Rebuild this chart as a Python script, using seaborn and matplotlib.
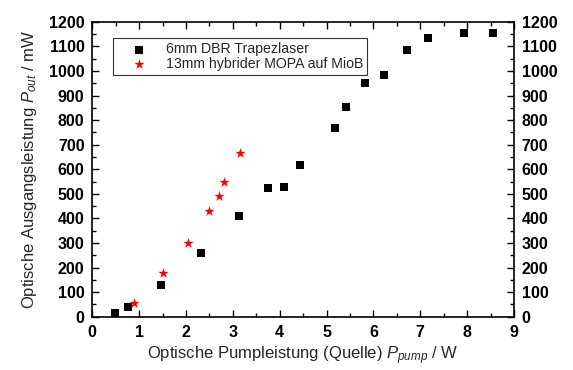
import matplotlib
matplotlib.use("Agg")
import matplotlib.pyplot as plt
import seaborn as sns
import pandas as pd
from matplotlib.ticker import MultipleLocator

# data
dbr_pump = [0.49, 0.76, 1.47, 2.33, 3.13, 3.75, 4.10, 4.43, 5.17, 5.41, 5.81, 6.22, 6.72, 7.16, 7.93, 8.56]
dbr_out = [14, 41, 131, 261, 411, 522, 528, 617, 768, 853, 950, 984, 1084, 1135, 1154, 1154]
mopa_pump = [0.90, 1.51, 2.05, 2.49, 2.70, 2.81, 3.16]
mopa_out = [55, 177, 300, 431, 491, 547, 665]
labels = ["6mm DBR Trapezlaser", "13mm hybrider MOPA auf MioB"]

sns.set_theme(style="ticks")
plt.rcParams["font.family"] = ["Liberation Sans", "DejaVu Sans"]
plt.rcParams["mathtext.fontset"] = "custom"
plt.rcParams["mathtext.rm"] = "Liberation Sans:weight=normal"
plt.rcParams["mathtext.it"] = "Liberation Sans:style=italic:weight=normal"

dbr_df = pd.DataFrame({"pump": dbr_pump, "out": dbr_out})
mopa_df = pd.DataFrame({"pump": mopa_pump, "out": mopa_out})

fig = plt.figure(figsize=(5.73, 3.70), dpi=100)
ax = fig.add_axes([0.161, 0.144, 0.736, 0.797])

sns.scatterplot(data=dbr_df, x="pump", y="out", marker="s", s=26, color="black",
                edgecolor="black", linewidth=0, label=labels[0], ax=ax)
sns.scatterplot(data=mopa_df, x="pump", y="out", marker="*", s=60, color="red",
                edgecolor="red", linewidth=0, label=labels[1], ax=ax)

ax.set_xlim(0, 9)
ax.set_ylim(0, 1200)
ax.xaxis.set_major_locator(MultipleLocator(1))
ax.xaxis.set_minor_locator(MultipleLocator(0.5))
ax.yaxis.set_major_locator(MultipleLocator(100))
ax.yaxis.set_minor_locator(MultipleLocator(50))
ax.tick_params(which="both", direction="in", top=True, right=True, labelright=True,
               width=1, colors="black", labelsize=11.5)
ax.tick_params(which="major", length=5)
ax.tick_params(which="minor", length=3)
ax.tick_params(axis="y", which="major", pad=5.5)
ax.tick_params(axis="x", which="major", pad=6)
for t in ax.xaxis.get_major_ticks() + ax.yaxis.get_major_ticks():
    t.label1.set_fontweight("bold")
    t.label2.set_fontweight("bold")
for sp in ax.spines.values():
    sp.set_linewidth(1.2)
    sp.set_color("black")

ax.set_xlabel("Optische Pumpleistung (Quelle) $P_{pump}$ / W", fontsize=12, labelpad=3)
ax.set_ylabel("Optische Ausgangsleistung $P_{out}$ / mW", fontsize=12, labelpad=7)

leg = ax.legend(loc="upper left", bbox_to_anchor=(0.05, 0.945),
                prop={"size": 10.2},
                frameon=True, fancybox=False, edgecolor="black", borderpad=0.3,
                handlelength=3.0, handletextpad=0.4, labelspacing=0.05,
                borderaxespad=0)
leg.get_frame().set_linewidth(0.8)

fig.savefig("out.png", dpi=100)
